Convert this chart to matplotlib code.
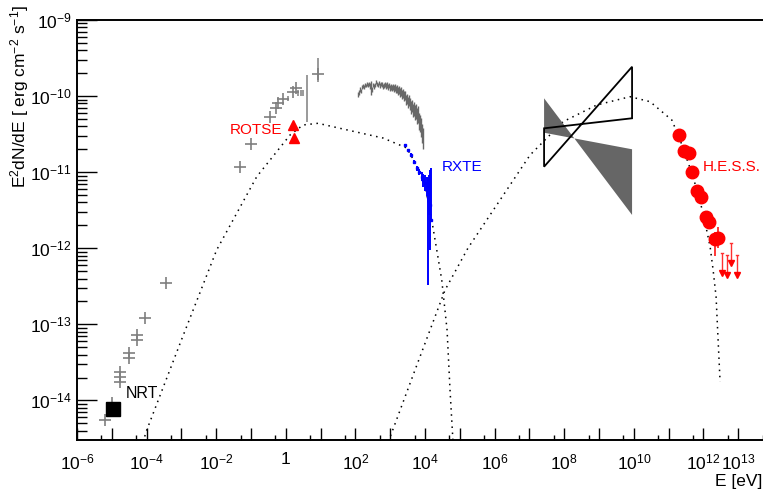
import numpy as np
import matplotlib
matplotlib.use('Agg')
import matplotlib.pyplot as plt
from matplotlib.ticker import FixedLocator, NullFormatter, FixedFormatter

plt.rcParams['font.family'] = ['Liberation Sans', 'DejaVu Sans']
plt.rcParams['mathtext.fontset'] = 'custom'
plt.rcParams['mathtext.rm'] = 'Liberation Sans'
plt.rcParams['mathtext.it'] = 'Liberation Sans:italic'
plt.rcParams['mathtext.bf'] = 'Liberation Sans:bold'

# ---------------- data ----------------
# radio / IR / optical archival points (gray crosses)
arch_E = [6.38e-6, 9.9e-6, 1.72e-5, 1.72e-5, 1.72e-5, 3.12e-5, 3.12e-5, 5.2e-5, 5.2e-5,
          9.0e-5, 3.6e-4, 0.0483, 0.1, 0.352, 0.513, 0.608, 0.847, 1.64, 1.92, 8.26]
arch_F = [5.54e-15, 9.18e-15, 2.39e-14, 2.06e-14, 1.77e-14, 4.17e-14, 3.59e-14, 7.26e-14, 6.24e-14,
          1.22e-13, 3.47e-13, 1.18e-11, 2.33e-11, 5.36e-11, 6.91e-11, 8.04e-11, 9.08e-11, 1.14e-10, 1.27e-10, 1.95e-10]
# archival points shown only with vertical error bars
archbar_E = [1.18, 2.29, 2.73, 3.18, 4.15, 8.26]
archbar_lo = [8.5e-11, 1.0e-10, 1.0e-10, 1.0e-10, 4.61e-11, 1.55e-10]
archbar_hi = [9.9e-11, 1.19e-10, 1.19e-10, 1.19e-10, 1.89e-10, 3.14e-10]

# NRT
nrt_E = [1.08e-5]
nrt_F = [7.8e-15]

# ROTSE
rotse_E = [1.64, 1.75]
rotse_F = [4.17e-11, 2.84e-11]

# X-ray spectrum (gray)
xray_E = [119, 127, 136, 145, 155, 166, 177, 189, 202, 215, 230, 246, 263, 281, 300, 320, 342,
          366, 391, 418, 446, 477, 509, 544, 581, 621, 663, 708, 757, 809, 865, 924, 986, 1054,
          1127, 1204, 1285, 1374, 1469, 1568, 1675, 1790, 1914, 2044, 2183, 2333, 2495, 2665,
          2844, 3040, 3243, 3466, 3707, 3960, 4227, 4520, 4831, 5160, 5508, 5890, 6295, 6720,
          7178, 7674, 8204, 8770]
xray_F = [1.05e-10, 1.12e-10, 1.22e-10, 1.18e-10, 1.30e-10, 1.36e-10, 1.33e-10, 1.40e-10,
          1.38e-10, 1.44e-10, 1.40e-10, 1.45e-10, 1.36e-10, 1.30e-10, 1.22e-10, 1.40e-10,
          1.33e-10, 1.42e-10, 1.52e-10, 1.46e-10, 1.40e-10, 1.48e-10, 1.38e-10, 1.44e-10,
          1.42e-10, 1.33e-10, 1.38e-10, 1.42e-10, 1.36e-10, 1.40e-10, 1.33e-10, 1.37e-10,
          1.30e-10, 1.34e-10, 1.28e-10, 1.33e-10, 1.27e-10, 1.30e-10, 1.22e-10, 1.26e-10,
          1.18e-10, 1.22e-10, 1.12e-10, 1.16e-10, 1.06e-10, 1.10e-10, 1.00e-10, 1.02e-10,
          9.0e-11, 9.4e-11, 8.4e-11, 8.8e-11, 8.0e-11, 7.2e-11, 7.6e-11, 6.6e-11, 6.9e-11,
          6.2e-11, 6.5e-11, 5.6e-11, 5.9e-11, 4.8e-11, 4.5e-11, 4.0e-11, 3.4e-11, 2.9e-11]
xray_rel = [0.08, 0.07, 0.07, 0.06, 0.06, 0.06, 0.06, 0.05, 0.06, 0.05, 0.06, 0.06, 0.08, 0.20,
            0.08, 0.06, 0.07, 0.06, 0.06, 0.06, 0.07, 0.06, 0.07, 0.07, 0.07, 0.08, 0.07, 0.08,
            0.08, 0.08, 0.09, 0.08, 0.09, 0.09, 0.10, 0.10, 0.11, 0.10, 0.11, 0.12, 0.12, 0.12,
            0.13, 0.13, 0.14, 0.13, 0.15, 0.14, 0.16, 0.15, 0.17, 0.16, 0.18, 0.20, 0.18, 0.20,
            0.20, 0.22, 0.22, 0.24, 0.24, 0.26, 0.26, 0.28, 0.28, 0.30]

# RXTE (blue)
rxte_E = [2661, 3311, 3962, 4831, 5768, 6730, 8035, 8933, 10000, 11190, 11970, 12450, 13030, 13930, 14870]
rxte_F = [2.28e-11, 1.96e-11, 1.68e-11, 1.37e-11, 1.12e-11, 1.02e-11, 8.73e-12, 7.91e-12,
          7.22e-12, 6.45e-12, 5.83e-12, 4.77e-12, 4.31e-12, 3.71e-12, 2.36e-12]
rxte_lo = [2.2e-11, 1.88e-11, 1.6e-11, 1.3e-11, 1.05e-11, 9.3e-12, 7.6e-12, 6.4e-12,
           5.6e-12, 4.8e-12, 4.0e-12, 3.3e-13, 2.74e-12, 9.5e-13, 2.2e-12]
rxte_hi = [2.36e-11, 2.04e-11, 1.76e-11, 1.45e-11, 1.2e-11, 1.11e-11, 1.0e-11, 9.5e-12,
           9.2e-12, 8.6e-12, 8.3e-12, 7.5e-12, 9.19e-12, 1.07e-11, 1.14e-11]

# GeV bow-ties
bow1_E = [2.63e7, 8.87e9, 8.87e9, 2.63e7]          # open (black outline)
bow1_F = [3.77e-11, 5.11e-11, 2.43e-10, 1.18e-11]
bow2_E = [2.63e7, 8.87e9, 8.87e9, 2.63e7]          # filled gray
bow2_F = [9.35e-11, 2.74e-12, 2.0e-11, 3.30e-11]

# H.E.S.S.
hess_E = [2.04e11, 2.77e11, 3.86e11, 4.8e11, 6.6e11, 8.3e11, 1.17e12, 1.48e12, 2.15e12, 2.69e12]
hess_F = [3.08e-11, 1.92e-11, 1.77e-11, 1.02e-11, 5.71e-12, 4.68e-12, 2.60e-12, 2.24e-12, 1.31e-12, 1.35e-12]
hess_lo = [2.8e-11, 1.75e-11, 1.6e-11, 9.3e-12, 5.2e-12, 4.2e-12, 2.3e-12, 1.9e-12, 7.8e-13, 1.0e-12]
hess_hi = [3.4e-11, 2.1e-11, 1.95e-11, 1.12e-11, 6.3e-12, 5.2e-12, 2.95e-12, 2.6e-12, 1.66e-12, 1.92e-12]
hessul_E = [3.48e12, 4.65e12, 6.2e12, 9.1e12]
hessul_F = [8.7e-13, 8.2e-13, 1.17e-12, 8.2e-13]

# model curves (dotted)
sync_E = [5.66e-5, 9.62e-5, 9.75e-4, 0.0103, 0.146, 1.32, 3.12, 8.41, 36.1, 621, 2979, 8770,
          1.39e4, 2.17e4, 3.02e4, 4.29e4, 5.22e4, 6.81e4]
sync_F = [1.65e-15, 3.85e-15, 6.05e-14, 9.5e-13, 8.73e-12, 3.08e-11, 4.17e-11, 4.39e-11, 3.77e-11,
          2.81e-11, 2.08e-11, 8.73e-12, 3.19e-12, 9.5e-13, 3.83e-13, 8.44e-14, 1.37e-14, 1.65e-15]
ic_E = [757, 925, 5164, 3.76e4, 1.72e5, 1.43e6, 1.04e7, 9.25e7, 8.59e8, 7.78e9, 2.92e10, 1.23e11,
        2.13e11, 5.02e11, 9.75e11, 1.55e12, 1.89e12, 2.30e12, 2.63e12, 3.0e12]
ic_F = [1.65e-15, 3.03e-15, 2.52e-14, 2.83e-13, 1.01e-12, 4.31e-12, 1.68e-11, 4.61e-11, 7.64e-11,
        9.82e-11, 8.44e-11, 4.85e-11, 2.65e-11, 8.73e-12, 2.91e-12, 1.05e-12, 5.19e-13, 2.31e-13,
        6.24e-14, 1.75e-14]

xtick_vals = [1e-6, 1e-4, 1e-2, 1, 1e2, 1e4, 1e6, 1e8, 1e10, 1e12, 1e13]
xtick_labels = [r'$\mathregular{10^{-6}}$', r'$\mathregular{10^{-4}}$', r'$\mathregular{10^{-2}}$', '1',
                r'$\mathregular{10^{2}}$', r'$\mathregular{10^{4}}$', r'$\mathregular{10^{6}}$',
                r'$\mathregular{10^{8}}$', r'$\mathregular{10^{10}}$', r'$\mathregular{10^{12}}$',
                r'$\mathregular{10^{13}}$']
ytick_vals = [1e-14, 1e-13, 1e-12, 1e-11, 1e-10, 1e-9]
ytick_labels = [r'$\mathregular{10^{-14}}$', r'$\mathregular{10^{-13}}$', r'$\mathregular{10^{-12}}$',
                r'$\mathregular{10^{-11}}$', r'$\mathregular{10^{-10}}$', r'$\mathregular{10^{-9}}$']

# ---------------- figure ----------------
W, H = 763, 491
fig = plt.figure(figsize=(W / 100, H / 100), dpi=100)
ax = fig.add_axes([77 / W, 1 - 440 / H, 1 - 77 / W, 420 / H])
ax.set_xscale('log')
ax.set_yscale('log')
ax.set_xlim(1e-6, 10 ** 13.71)
ax.set_ylim(3.02e-15, 1e-9)

for s in ['left', 'bottom', 'top']:
    ax.spines[s].set_linewidth(1.4)
    ax.spines[s].set_color('black')
ax.spines['right'].set_visible(False)

# ticks
ax.xaxis.set_major_locator(FixedLocator([10.0 ** k for k in range(-6, 14)]))
ax.xaxis.set_minor_locator(FixedLocator([5 * 10.0 ** k for k in range(-7, 14)]))
xl = []
for k in range(-6, 14):
    v = 10.0 ** k
    if v in xtick_vals:
        xl.append(xtick_labels[xtick_vals.index(v)])
    else:
        xl.append('')
ax.xaxis.set_major_formatter(FixedFormatter(xl))
ax.xaxis.set_minor_formatter(NullFormatter())
ax.yaxis.set_major_locator(FixedLocator(ytick_vals))
ax.yaxis.set_minor_locator(FixedLocator([m * 10.0 ** k for k in range(-15, -9) for m in range(2, 10)]))
ax.yaxis.set_major_formatter(FixedFormatter(ytick_labels))
ax.yaxis.set_minor_formatter(NullFormatter())
ax.tick_params(axis='x', which='major', direction='in', length=8.6, width=1.0, labelsize=12.5, pad=9, top=False)
ax.tick_params(axis='x', which='minor', direction='in', length=3.8, width=1.0, top=False)
ax.tick_params(axis='y', which='major', direction='in', length=14.4, width=1.0, labelsize=12.5, pad=4, right=False)
ax.tick_params(axis='y', which='minor', direction='in', length=7.2, width=1.0, right=False)

# model curves
ax.plot(sync_E, sync_F, color='black', lw=1.1, ls=(0, (1, 3)), zorder=2)
ax.plot(ic_E, ic_F, color='black', lw=1.1, ls=(0, (1, 3)), zorder=2)

# archival
gray = '#7f7f7f'
ax.plot(arch_E, arch_F, ls='none', marker='+', ms=8.5, mew=1.2, color=gray, zorder=3)
ax.vlines(archbar_E, archbar_lo, archbar_hi, color=gray, lw=1.1, zorder=3)

# NRT
ax.plot(nrt_E, nrt_F, ls='none', marker='s', ms=10, color='black', zorder=4)

# ROTSE
ax.plot(rotse_E, rotse_F, ls='none', marker='^', ms=7.5, color='red', zorder=4)

# X-ray spectrum
xe = np.array(xray_E, float)
xf = np.array(xray_F, float)
xr = np.array(xray_rel, float)
ax.vlines(xe, xf * (1 - xr), xf * (1 + xr), color='#686868', lw=1.0, zorder=3)

# RXTE
ax.vlines(rxte_E, rxte_lo, rxte_hi, color='#0000ff', lw=1.4, zorder=4)
ax.plot(rxte_E, rxte_F, ls='none', marker='s', ms=2, color='#0000ff', zorder=4)

# bow-ties
ax.fill(bow2_E, bow2_F, color='#666666', lw=0, zorder=3)
ax.fill(bow1_E, bow1_F, facecolor='none', edgecolor='black', lw=1.3, zorder=4)

# HESS
he = np.array(hess_E)
hf = np.array(hess_F)
ax.vlines(he, hess_lo, hess_hi, color='red', lw=1.1, zorder=4)
ax.plot(he, hf, ls='none', marker='o', ms=9, color='red', zorder=5)
ue = np.array(hessul_E)
uf = np.array(hessul_F)
ax.vlines(ue, uf * 0.53, uf, color='#ff3030', lw=1.0, zorder=4)
ax.plot(ue, uf * 0.55, ls='none', marker='v', ms=4.5, color='red', zorder=5)
for e, f in zip(ue, uf):
    ax.plot([e / 1.07, e * 1.07], [f, f], color='#ff3030', lw=1.0, zorder=4)

# text labels
ax.text(0.78, 3.58e-11, 'ROTSE', color='red', fontsize=11, ha='right', va='center')
ax.text(3.02e4, 1.18e-11, 'RXTE', color='blue', fontsize=11, ha='left', va='center')
ax.text(9.55e11, 1.18e-11, 'H.E.S.S.', color='red', fontsize=11, ha='left', va='center')
ax.text(2.56e-5, 1.22e-14, 'NRT', color='black', fontsize=11.5, ha='left', va='center')

# axis titles
fig.text(762 / W, 1 - 489 / H, 'E [eV]', ha='right', va='bottom', fontsize=12.5)
fig.text(20 / W, 1 - 5 / H, r'E$^{2}$dN/dE [ erg cm$^{-2}$ s$^{-1}$]', rotation=90,
         ha='center', va='top', fontsize=12.5)

fig.savefig('out.png', dpi=100)
